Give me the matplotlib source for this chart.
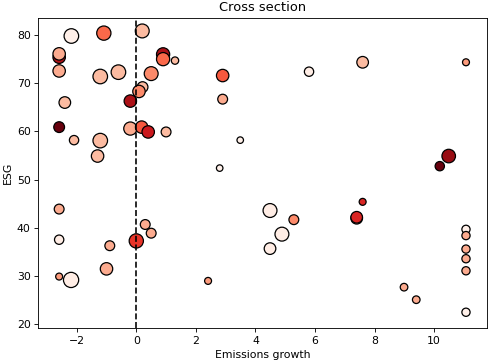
import numpy as np
import matplotlib
matplotlib.use("Agg")
import matplotlib.pyplot as plt

# Cross-section data
emissions_growth = [
    -2.18, -1.09, 0.20, -2.59, -2.59, -2.59, -1.21, -0.60, 0.90, 0.90,
    1.30, 0.50, 0.21, 0.09, -0.20, -2.40, -2.59, -2.09, -1.21, -1.30,
    -0.20, 0.18, 0.40, 1.00, 2.90, 2.90, 3.49, 2.80, 5.80, 7.60,
    11.07, 10.19, 10.49, -2.59, -2.59, -2.59, -2.19, -0.89, -1.00, 0.00,
    0.30, 0.50, 4.49, 5.29, 4.89, 4.49, 2.41, 7.60, 7.40, 7.40,
    11.07, 11.07, 11.07, 11.07, 11.07, 11.07, 8.99, 9.40,
]
esg = [
    79.8, 80.4, 80.85, 75.4, 76.1, 72.55, 71.4, 72.3, 76.0, 75.0,
    74.7, 72.0, 69.2, 68.3, 66.3, 66.0, 60.9, 58.2, 58.1, 54.9,
    60.6, 60.9, 59.9, 59.9, 71.6, 66.7, 58.2, 52.4, 72.4, 74.35,
    74.35, 52.8, 54.9, 43.9, 37.55, 29.9, 29.2, 36.3, 31.5, 37.3,
    40.7, 38.9, 43.6, 41.7, 38.7, 35.7, 29.0, 45.4, 42.0, 42.2,
    39.7, 38.4, 35.6, 33.6, 31.1, 22.5, 27.7, 25.1,
]
marker_size = [
    110, 105, 100, 80, 80, 80, 110, 110, 90, 90,
    28, 100, 60, 80, 80, 70, 60, 45, 110, 80,
    90, 80, 80, 50, 80, 50, 22, 22, 45, 70,
    25, 45, 95, 50, 45, 25, 120, 50, 80, 105,
    50, 50, 100, 50, 100, 70, 25, 25, 70, 70,
    35, 35, 35, 35, 35, 35, 30, 30,
]
intensity = [
    0.03, 0.50, 0.25, 0.85, 0.30, 0.30, 0.25, 0.25, 0.85, 0.50,
    0.25, 0.40, 0.25, 0.40, 0.85, 0.25, 1.00, 0.25, 0.25, 0.25,
    0.30, 0.55, 0.75, 0.25, 0.55, 0.30, 0.03, 0.03, 0.05, 0.25,
    0.35, 1.00, 0.90, 0.30, 0.05, 0.35, 0.05, 0.30, 0.30, 0.65,
    0.30, 0.30, 0.05, 0.40, 0.05, 0.05, 0.35, 0.70, 0.05, 0.70,
    0.03, 0.30, 0.30, 0.30, 0.30, 0.03, 0.30, 0.30,
]

# reference looks like a scaled-down default figure, so shrink text and lines
scale = 0.78
plt.rcParams.update({
    "font.size": 10 * scale,
    "axes.titlesize": 12 * scale,
    "axes.labelsize": 10 * scale,
    "xtick.labelsize": 10 * scale,
    "ytick.labelsize": 10 * scale,
    "axes.linewidth": 0.8 * scale,
    "xtick.major.width": 0.8 * scale,
    "ytick.major.width": 0.8 * scale,
    "xtick.major.size": 3.5 * scale,
    "ytick.major.size": 3.5 * scale,
    "xtick.major.pad": 3.5 * scale,
    "ytick.major.pad": 3.5 * scale,
    "axes.titlepad": 6 * scale,
    "axes.labelpad": 4 * scale,
})

fig, ax = plt.subplots(figsize=(4.88, 3.61), dpi=100)
fig.subplots_adjust(left=0.0785, right=0.997, top=0.951, bottom=0.0906)

ax.scatter(emissions_growth, esg, s=marker_size, c=intensity, cmap="Reds",
           vmin=0, vmax=1, edgecolors="k", linewidths=0.9)
ax.axvline(0, color="k", linestyle="--", linewidth=1.5 * scale)

ax.set_xlim(-3.29, 11.76)
ax.set_ylim(19.17, 83.6)
ax.set_title("Cross section")
ax.set_xlabel("Emissions growth")
ax.set_ylabel("ESG")

fig.savefig("out.png", dpi=100)
